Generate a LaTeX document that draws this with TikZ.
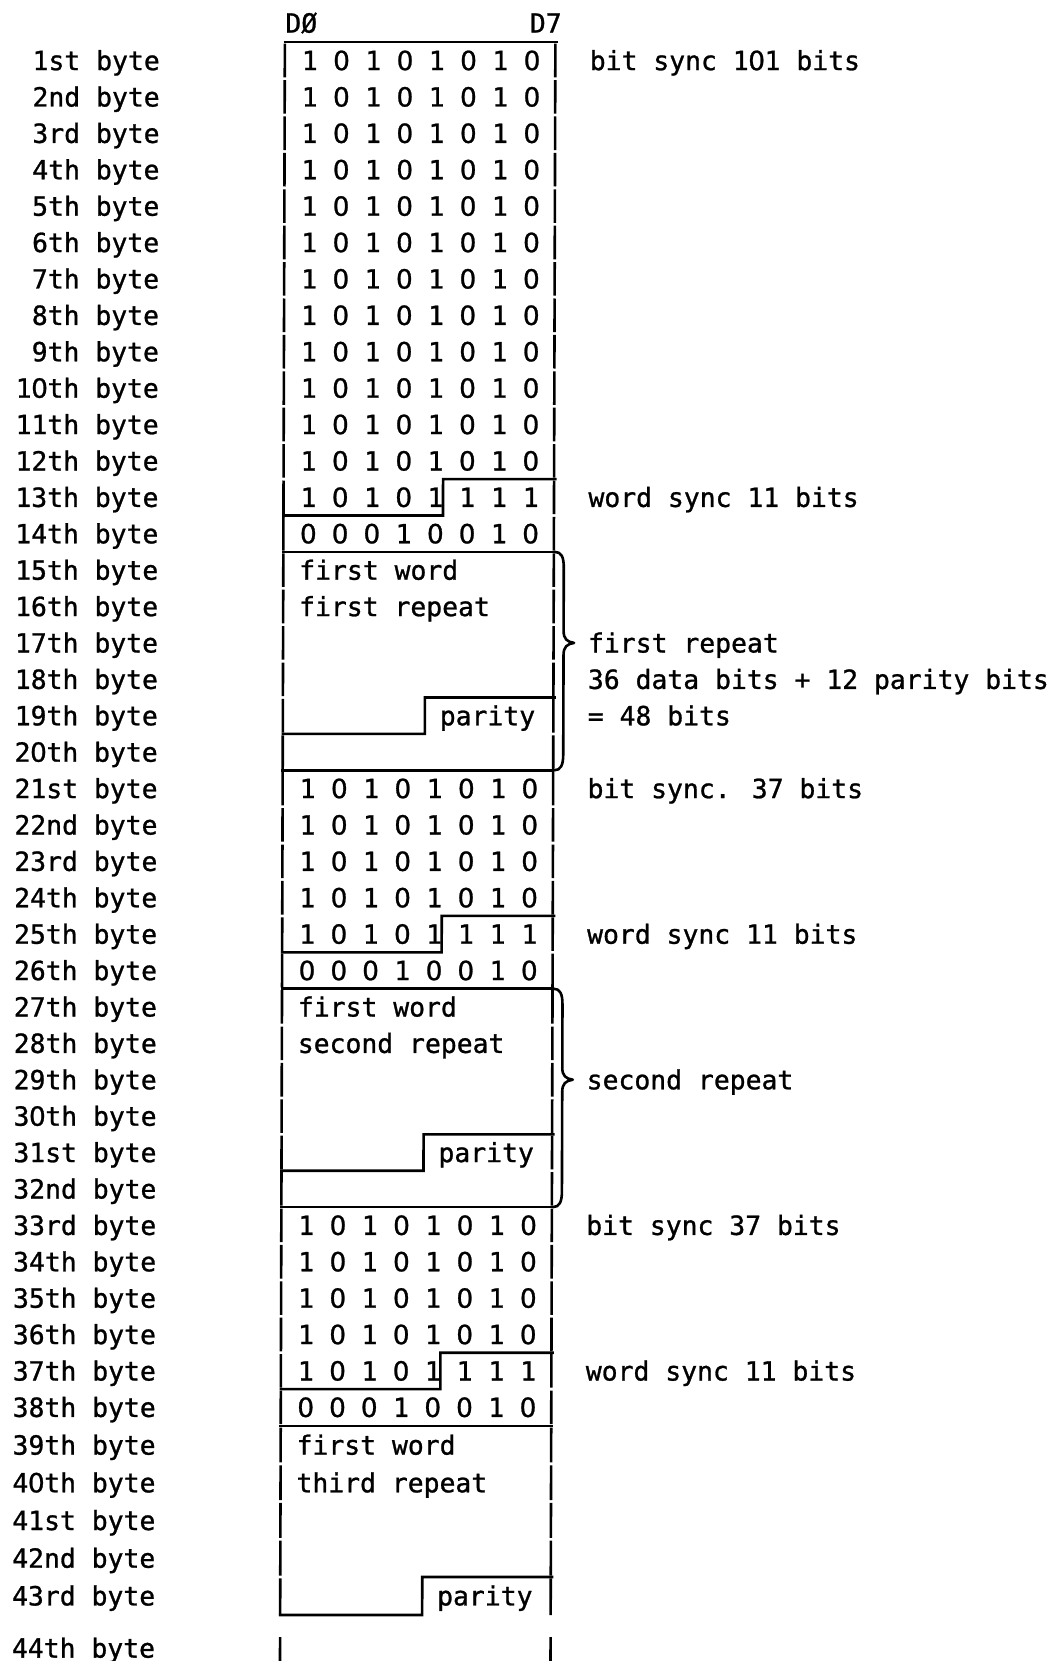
\documentclass[tikz,border=0pt]{standalone}
\usepackage{fontspec}
\newfontfamily\twfam[FakeBold=1.0]{DejaVu Sans Mono}
\newfontfamily\pzfam[FakeBold=1.0]{DejaVu Sans}
\newcommand\twf{\twfam\fontsize{26.4pt}{30pt}\selectfont}
\newcommand\Z{\makebox[0.602em][c]{\pzfam 0}}
\newcommand\dig[1]{\ifnum#1=0 \Z\else 1\fi}
\tikzset{
  txt/.style={font=\twf, inner sep=0pt, outer sep=0pt, text=black},
  lab/.style={txt, anchor=base east},
  note/.style={txt, anchor=base west},
  bit/.style={txt, anchor=base},
  rule/.style={line width=2.6pt, line cap=butt, line join=miter},
  brace/.style={line width=2.6pt, line cap=round, line join=round}
}
\begin{document}
\begin{tikzpicture}[x=1pt,y=-1pt,
  declare function={ry(\k)=(\k<39)*(60.5+36.4*(\k-1))+(\k>38)*(\k<44)*(1407.3+37.7*(\k-38))+(\k>43)*1648;
                    by(\k)=(ry(\k)+ry(\k+1))/2;}]
\fill[white] (0,0) rectangle (1058,1661);
\useasboundingbox (0,0) rectangle (1058,1661);
\begin{scope}[cm={1,0,0.003,1,(0,0)}]
% row labels
\foreach \k/\lbl in {1/1st,2/2nd,3/3rd,4/4th,5/5th,6/6th,7/7th,8/8th,9/9th,10/1\Z th,
  11/11th,12/12th,13/13th,14/14th,15/15th,16/16th,17/17th,18/18th,19/19th,20/2\Z th,
  21/21st,22/22nd,23/23rd,24/24th,25/25th,26/26th,27/27th,28/28th,29/29th,30/3\Z th,
  31/31st,32/32nd,33/33rd,34/34th,35/35th,36/36th,37/37th,38/38th,39/39th,40/4\Z th,
  41/41st,42/42nd,43/43rd,44/44th}{
  \node[lab] (L\k) at (160,{ry(\k)+9.6}) {\lbl\ byte};
}
% column heads
\node[note] (d0) at (285.5,32.6) {DØ};
\node[note] (d7) at (530,32.6) {D7};
% bits
\foreach \k in {1,...,12,21,22,23,24,33,34,35,36}{
  \foreach \v [count=\i] in {1,0,1,0,1,0,1,0}{
    \node[bit] (b\k-\i) at ({310+31.75*(\i-1)},{ry(\k)+9.6}) {\dig{\v}};
  }
}
\foreach \k in {13,25,37}{
  \foreach \v [count=\i] in {1,0,1,0,1,1,1,1}{
    \node[bit] (b\k-\i) at ({310+31.75*(\i-1)},{ry(\k)+9.6}) {\dig{\v}};
  }
}
\foreach \k in {14,26,38}{
  \foreach \v [count=\i] in {0,0,0,1,0,0,1,0}{
    \node[bit] (b\k-\i) at ({310+31.75*(\i-1)},{ry(\k)+9.6}) {\dig{\v}};
  }
}
% texts inside the word boxes
\foreach \a/\w/\n in {15/first repeat/1,27/second repeat/2,39/third repeat/3}{
  \node[note] (fw\n) at (301,{ry(\a)+9.6}) {first word};
  \node[note] (fr\n) at (301,{ry(\a+1)+9.6}) {\w};
  \node[note] (par\n) at (442,{ry(\a+4)+9.6}) {parity};
}
% notes on the right
\node[note] (n1) at (590,{ry(1)+9.6}) {bit sync 1\Z1 bits};
\node[note] (n2) at (590,{ry(13)+9.6}) {word sync 11 bits};
\node[note] (n3) at (590,{ry(17)+9.6}) {first repeat};
\node[note] (n4) at (590,{ry(18)+9.6}) {36 data bits + 12 parity bits};
\node[note] (n5) at (590,{ry(19)+9.6}) {= 48 bits};
\node[note] (n6) at (590,{ry(21)+9.6}) {bit sync. 37 bits};
\node[note] (n7) at (590,{ry(25)+9.6}) {word sync 11 bits};
\node[note] (n8) at (590,{ry(29)+9.6}) {second repeat};
\node[note] (n9) at (590,{ry(33)+9.6}) {bit sync 37 bits};
\node[note] (n10) at (590,{ry(37)+9.6}) {word sync 11 bits};
% vertical edges, one stroke per row
\foreach \k in {1,...,42}{
  \pgfmathsetmacro\yc{ry(\k)}
  \pgfmathsetmacro\hh{(\k<39)?16.8:17.45}
  \draw[rule] (285,{\yc-\hh}) -- (285,{\yc+\hh});
  \draw[rule] (555.5,{\yc-\hh}) -- (555.5,{\yc+\hh});
}
\pgfmathsetmacro\yl{ry(43)-17.45}
\draw[rule] (285,\yl) -- (285,1615);
\draw[rule] (555.5,\yl) -- (555.5,1615);
\draw[rule] (285,1637) -- (285,1672);
\draw[rule] (555.5,1637) -- (555.5,1672);
% horizontal rules
\draw[rule] (283.75,42) -- (558,42);
\foreach \k in {12,24,36}{
  \draw[rule] (558,{by(\k)}) -- (444.5,{by(\k)}) -- (444.5,{by(\k+1)}) -- (283.75,{by(\k+1)});
  \draw[rule] (283.75,{by(\k+2)}) -- (557,{by(\k+2)});
}
\foreach \k in {18,30}{
  \draw[rule] (558,{by(\k)}) -- (427,{by(\k)}) -- (427,{by(\k+1)}) -- (283.75,{by(\k+1)});
  \draw[rule] (283.75,{by(\k+2)}) -- (556.75,{by(\k+2)});
}
\draw[rule] (558,{by(42)}) -- (427,{by(42)}) -- (427,1615) -- (283.75,1615);
% braces
\foreach \a/\b/\c in {14/20/17,26/32/29}{
  \pgfmathsetmacro\T{by(\a)}
  \pgfmathsetmacro\B{by(\b)}
  \pgfmathsetmacro\M{ry(\c)}
  \draw[brace] (556.5,\T) .. controls (563,\T) and (565.5,{\T+5}) .. (565.5,{\T+16})
    -- (565.5,{\M-12}) .. controls (565.5,{\M-4}) and (569,{\M-1}) .. (576,\M)
    .. controls (569,{\M+1}) and (565.5,{\M+4}) .. (565.5,{\M+12})
    -- (565.5,{\B-16}) .. controls (565.5,{\B-5}) and (563,\B) .. (556.5,\B);
}
\end{scope}
\end{tikzpicture}
\end{document}
